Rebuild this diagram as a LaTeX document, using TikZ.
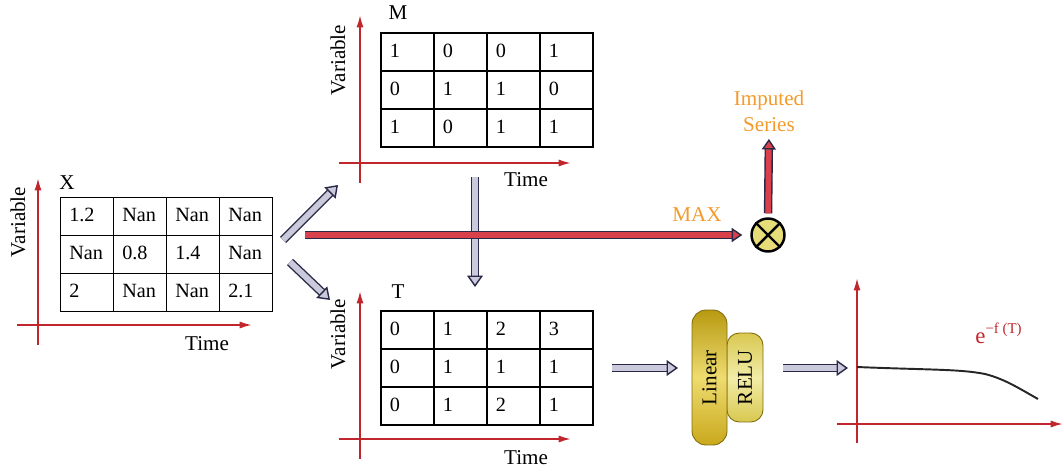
\documentclass[tikz,border=0pt]{standalone}
\usepackage{fontspec}
\setmainfont{Liberation Serif}
\usetikzlibrary{matrix,arrows.meta,calc}
\definecolor{axred}{HTML}{C0262C}
\definecolor{arrbody}{HTML}{CACADC}
\definecolor{arredge}{HTML}{2A2A48}
\definecolor{redbody}{HTML}{D8404C}
\definecolor{orangetxt}{HTML}{F39A2B}
\definecolor{goldA}{HTML}{B89A12}
\definecolor{goldB}{HTML}{EEDC70}
\definecolor{goldC}{HTML}{C9A81C}
\definecolor{reluA}{HTML}{D8C850}
\definecolor{reluB}{HTML}{F2ECA8}
\definecolor{otfill}{HTML}{E6DC78}
\tikzset{
  tbl/.style={matrix of nodes, inner sep=0pt,
    row sep=-1.1pt, column sep=-1.1pt,
    nodes={draw, line width=1.1pt, anchor=center,
      minimum width=1.06cm, minimum height=0.76cm,
      inner xsep=5pt, text width=1.06cm-10pt, align=left,
      text height=1.6ex, text depth=0.3ex,
      font=\fontsize{11.5}{13}\selectfont}},
  lbl/.style={font=\fontsize{12}{14}\selectfont, inner sep=0pt},
  vlbl/.style={lbl, rotate=90},
  axis/.style={draw=axred, line width=1pt, -{Latex[length=7pt,width=4pt]}},
  fat/.style={draw=arredge, line width=0.8pt, double=arrbody,
    double distance=3.4pt,
    -{Triangle[open, fill=arrbody, length=6.5pt, width=9pt, line width=0.8pt]}},
  fatred/.style={draw=arredge, line width=0.8pt, double=redbody,
    double distance=3.2pt,
    -{Triangle[open, fill=redbody, length=6pt, width=8pt, line width=0.8pt]}},
}
\begin{document}
\begin{tikzpicture}[x=0.02cm, y=-0.02cm]
\useasboundingbox (0,0) rectangle (1064,470);

% ---------- X ----------
\draw[axis] (38,345) -- (38,178);
\draw[axis] (17,325) -- (252,325);
\matrix[tbl] (X) at (166.5,254.5) {
 1.2 & Nan & Nan & Nan \\
 Nan & 0.8 & 1.4 & Nan \\
 2 & Nan & Nan & 2.1 \\
};
\node[lbl] (Xname) at (67,183) {X};
\node[vlbl] (Xvar) at (18,222) {Variable};
\node[lbl] (Xtime) at (207,344) {Time};

% ---------- M ----------
\draw[axis] (360,183) -- (360,15);
\draw[axis] (339,163) -- (571,163);
\matrix[tbl] (M) at (487,90) {
 1 & 0 & 0 & 1 \\
 0 & 1 & 1 & 0 \\
 1 & 0 & 1 & 1 \\
};
\node[lbl] (Mname) at (398,13) {M};
\node[vlbl] (Mvar) at (338,60) {Variable};
\node[lbl] (Mtime) at (526,180) {Time};

% ---------- T ----------
\draw[axis] (360,459) -- (360,291);
\draw[axis] (339,439) -- (571,439);
\matrix[tbl] (T) at (487,368) {
 0 & 1 & 2 & 3 \\
 0 & 1 & 1 & 1 \\
 0 & 1 & 2 & 1 \\
};
\node[lbl] (Tname) at (398,292) {T};
\node[vlbl] (Tvar) at (338,334) {Variable};
\node[lbl] (Ttime) at (526,458) {Time};

% ---------- arrows from X ----------
\coordinate (upS) at (283,240);
\coordinate (upE) at (338,185);
\coordinate (dnS) at (290,262);
\coordinate (dnE) at (330,300);
\draw[fat] (upS) -- (upE);
\draw[fat] (dnS) -- (dnE);

% vertical arrow M -> T
\coordinate (vS) at (475,177);
\coordinate (vE) at (475,287);
\draw[fat] (vS) -- (vE);

% ---------- multiply ----------
\node[circle, draw=black, line width=1.4pt, fill=otfill,
      minimum size=0.66cm, inner sep=0pt] (mul) at (768,235) {};
\draw[line width=1.4pt] (mul.north west) -- (mul.south east)
                        (mul.north east) -- (mul.south west);
\coordinate (rS) at (305,235);
\draw[fatred, shorten >=0.16cm] (rS) -- (mul);
\node[lbl, text=orangetxt] (max) at (697,215) {MAX};
\node[lbl, text=orangetxt, align=center] (imp) at (769,111)
  {Imputed\\[1pt]Series};
\draw[fatred, shorten <=0.08cm, shorten >=0.14cm] (mul.north) -- (imp.south);

% ---------- Linear / RELU ----------
\node[draw=goldA!70!black, line width=0.5pt, rounded corners=7pt,
      top color=reluA, bottom color=reluA, middle color=reluB,
      minimum width=0.72cm, minimum height=1.78cm, inner sep=0pt] (relu) at (745,377.5) {};
\node[font=\fontsize{12}{14}\selectfont, rotate=90] at (relu) {RELU};
\node[draw=goldA!70!black, line width=0.5pt, rounded corners=8pt,
      top color=goldA, bottom color=goldC, middle color=goldB,
      minimum width=0.7cm, minimum height=2.7cm, inner sep=0pt] (lin) at (709.5,377.5) {};
\node[font=\fontsize{12}{14}\selectfont, rotate=90] at (lin) {Linear};

\coordinate (tS) at (612,368);
\coordinate (tE) at (678,368);
\draw[fat] (tS) -- (tE);
\coordinate (gS) at (783,368);
\coordinate (gE) at (848,368);
\draw[fat] (gS) -- (gE);

% ---------- graph ----------
\draw[axis] (857,443) -- (857,278);
\draw[axis] (837,424) -- (1063,424);
\draw[line width=1.1pt, black!85] (857,367) .. controls (930,370) and (960,369) .. (985,374)
   .. controls (1005,379) and (1020,389) .. (1038,399);
\node[text=axred, inner sep=0pt, anchor=base west] (ef) at (975,343)
  {\fontsize{13}{14}\selectfont e\raisebox{0.9ex}{\fontsize{8.5}{9}\selectfont −f (T)}};
\end{tikzpicture}
\end{document}
